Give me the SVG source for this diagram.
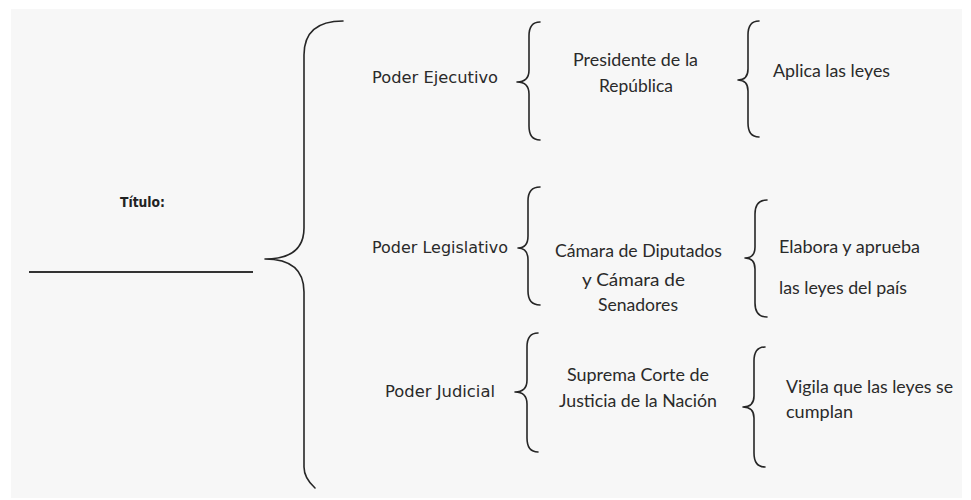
<svg xmlns="http://www.w3.org/2000/svg" width="971" height="500" viewBox="0 0 971 500">
<style>
.brace{fill:none;stroke:#262626;stroke-width:1.6;stroke-linecap:round;stroke-linejoin:round}
.rule{fill:none;stroke:#333;stroke-width:2}
.lab{font-family:"DejaVu Sans","Liberation Sans",sans-serif;font-size:15px;fill:#2a2a2a}
.txt{font-family:Lato,"Open Sans",sans-serif;font-size:17.5px;fill:#2a2a2a}
.ttl{font-family:"DejaVu Sans","Liberation Sans",sans-serif;font-size:14px;font-weight:bold;fill:#222}
</style>
<rect x="0" y="0" width="971" height="500" fill="#ffffff"/>
<rect x="11" y="9" width="951" height="489" fill="#f7f7f7"/>
<g id="connectors">
<line class="rule" x1="29" y1="272" x2="253" y2="272"/>
<path class="brace" d="M343,21 Q304,21 304,55 L304,228 Q304,259 265,259 Q304,259 304,292 L304,467 Q304,478 315,488"/>
<path class="brace" d="M540,22 Q529,22 529,36 L529,70 Q529,82 517,82 Q529,82 529,94 L529,126 Q529,140 540,140"/>
<path class="brace" d="M540,187 Q528,187 528,201 L528,236 Q528,248 518,248 Q528,248 528,260 L528,291 Q528,305 540,305"/>
<path class="brace" d="M538,333 Q527,333 527,347 L527,380 Q527,392 515,392 Q527,392 527,404 L527,438 Q527,452 538,452"/>
<path class="brace" d="M759,21 Q748,21 748,35 L748,69 Q748,80 738,80 Q748,80 748,91 L748,123 Q748,137 759,137"/>
<path class="brace" d="M767,200 Q755,200 755,214 L755,247 Q755,258 745,258 Q755,258 755,269 L755,303 Q755,317 767,317"/>
<path class="brace" d="M765,347 Q754,347 754,361 L754,396 Q754,407 743,407 Q754,407 754,418 L754,453 Q754,467 765,467"/>
</g>
<g id="titulo"><text class="ttl" x="120" y="207" textLength="45" lengthAdjust="spacingAndGlyphs">Título:</text></g>
<g id="poder-ejecutivo"><text class="lab" x="372" y="83" textLength="126" lengthAdjust="spacingAndGlyphs">Poder Ejecutivo</text></g>
<g id="poder-legislativo"><text class="lab" x="372" y="253" textLength="136" lengthAdjust="spacingAndGlyphs">Poder Legislativo</text></g>
<g id="poder-judicial"><text class="lab" x="385" y="397" textLength="110" lengthAdjust="spacingAndGlyphs">Poder Judicial</text></g>
<g id="presidente">
<text class="txt" x="573" y="66" textLength="125" lengthAdjust="spacingAndGlyphs">Presidente de la</text>
<text class="txt" x="599" y="92" textLength="74" lengthAdjust="spacingAndGlyphs">República</text>
</g>
<g id="camaras">
<text class="txt" x="555" y="257" textLength="167" lengthAdjust="spacingAndGlyphs">Cámara de Diputados</text>
<text class="txt" x="582" y="286" textLength="103" lengthAdjust="spacingAndGlyphs">y Cámara de</text>
<text class="txt" x="598" y="311" textLength="80" lengthAdjust="spacingAndGlyphs">Senadores</text>
</g>
<g id="suprema-corte">
<text class="txt" x="567" y="381" textLength="142" lengthAdjust="spacingAndGlyphs">Suprema Corte de</text>
<text class="txt" x="559" y="407" textLength="158" lengthAdjust="spacingAndGlyphs">Justicia de la Nación</text>
</g>
<g id="aplica"><text class="txt" x="773" y="77" textLength="117" lengthAdjust="spacingAndGlyphs">Aplica las leyes</text></g>
<g id="elabora">
<text class="txt" x="779" y="253" textLength="141" lengthAdjust="spacingAndGlyphs">Elabora y aprueba</text>
<text class="txt" x="779" y="294" textLength="128" lengthAdjust="spacingAndGlyphs">las leyes del país</text>
</g>
<g id="vigila">
<text class="txt" x="786" y="393" textLength="167" lengthAdjust="spacingAndGlyphs">Vigila que las leyes se</text>
<text class="txt" x="786" y="418" textLength="67" lengthAdjust="spacingAndGlyphs">cumplan</text>
</g>
</svg>
